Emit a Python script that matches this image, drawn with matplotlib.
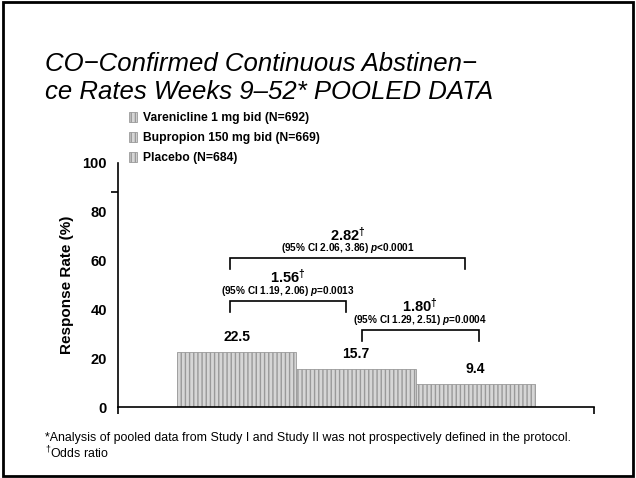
import matplotlib
matplotlib.use("Agg")
import matplotlib.pyplot as plt
from matplotlib.patches import Rectangle

plt.rcParams['font.family'] = ['Liberation Sans', 'DejaVu Sans']
plt.rcParams['mathtext.fontset'] = 'custom'
plt.rcParams['mathtext.rm'] = 'Liberation Sans'
plt.rcParams['mathtext.bf'] = 'Liberation Sans:bold'
plt.rcParams['mathtext.it'] = 'Liberation Sans:italic:bold'

# data
groups = ['Varenicline 1 mg bid (N=692)', 'Bupropion 150 mg bid (N=669)', 'Placebo (N=684)']
rates = [22.5, 15.7, 9.4]
value_labels = ['22.5', '15.7', '9.4']

# odds ratio comparisons: (bar i, bar j), bracket height, OR, CI text
comp_pairs = [(0, 2), (0, 1), (1, 2)]
comp_heights = [61, 43.5, 31.5]
comp_or = ['2.82', '1.56', '1.80']
comp_ci = ['(95% CI 2.06, 3.86) $p$<0.0001',
           '(95% CI 1.19, 2.06) $p$=0.0013',
           '(95% CI 1.29, 2.51) $p$=0.0004']
comp_offsets = [(-0.06, -0.08), (-0.06, -0.08), (0.05, 0.03)]

fig = plt.figure(figsize=(6.36, 4.78), dpi=100)
fig.patches.append(Rectangle((0.004, 0.004), 0.992, 0.992, transform=fig.transFigure,
                             fill=False, edgecolor='black', linewidth=2))

ax = fig.add_axes([0.1855, 0.1485, 0.7485, 0.5105])
xpos = [1, 2, 3]
for x, r, g in zip(xpos, rates, groups):
    ax.bar(x, r, width=1.0, color='#d6d6d6', edgecolor='#999999', hatch='||||',
           linewidth=0.6, label=g)

for x, r, t in zip(xpos, rates, value_labels):
    ax.text(x, r + 6, t, ha='center', va='center', fontsize=10, fontweight='bold')

for (i, j), h, orv, ci, (dl, dr) in zip(comp_pairs, comp_heights, comp_or, comp_ci, comp_offsets):
    x0 = xpos[i] + dl
    x1 = xpos[j] + dr
    ax.plot([x0, x0, x1, x1], [h - 4.5, h, h, h - 4.5], color='black', linewidth=1.2,
            solid_joinstyle='miter', clip_on=False)
    xm = (x0 + x1) / 2
    ax.text(xm, h + 4.0, ci, ha='center', va='center', fontsize=7.2, fontweight='bold')
    ax.text(xm, h + 9.8, orv + r'$^{\mathbf{\dagger}}$', ha='center', va='center',
            fontsize=10.5, fontweight='bold')

ax.set_xlim(0, 4)
ax.set_ylim(0, 100)
ax.set_yticks([0, 20, 40, 60, 80, 100])
ax.set_yticks([0, 20, 40, 60, 88, 100], minor=True)
ax.tick_params(axis='y', which='major', length=0, pad=8, labelsize=10.5)
ax.tick_params(axis='y', which='minor', length=5, width=1.2, direction='out')
for lab in ax.get_yticklabels():
    lab.set_fontweight('bold')
ax.set_xticks([0, 4])
ax.set_xticklabels([])
ax.tick_params(axis='x', length=5, width=1.2, direction='out')
for s in ['top', 'right']:
    ax.spines[s].set_visible(False)
for s in ['left', 'bottom']:
    ax.spines[s].set_linewidth(1.2)
ax.set_ylabel('Response Rate (%)', fontsize=11, fontweight='bold', labelpad=6)

ax.legend(loc='upper left', bbox_to_anchor=(0.012, 1.228), frameon=False,
          prop={'size': 8.7, 'weight': 'bold'}, handlelength=0.7, handleheight=0.9,
          handletextpad=0.5, labelspacing=0.62, borderaxespad=0)

fig.text(0.07, 0.782, 'CO\u2212Confirmed Continuous Abstinen\u2212\nce Rates Weeks 9\u201252* POOLED DATA',
         fontsize=18.5, fontstyle='italic', linespacing=1.2, va='bottom', ha='left')

fig.text(0.071, 0.084, '*Analysis of pooled data from Study I and Study II was not prospectively defined in the protocol.',
         fontsize=8.9, va='center')
fig.text(0.071, 0.052, r'$^{\dagger}$Odds ratio', fontsize=8.9, va='center')

fig.savefig('out.png', dpi=100)
